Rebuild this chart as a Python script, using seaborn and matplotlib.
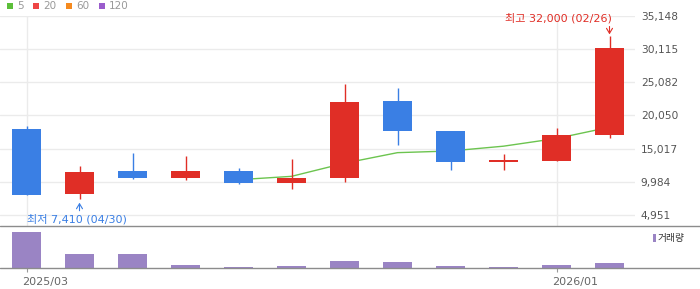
import numpy as np
import pandas as pd
import matplotlib
matplotlib.use("Agg")
import matplotlib.pyplot as plt
from matplotlib.patches import Rectangle
from matplotlib.lines import Line2D
from matplotlib.transforms import ScaledTranslation
import seaborn as sns

# ---------------- data ----------------
months = ["2025/03", "2025/04", "2025/05", "2025/06", "2025/07", "2025/08",
          "2025/09", "2025/10", "2025/11", "2025/12", "2026/01", "2026/02"]
open_ = [17980, 8180, 11620, 10560, 11620, 9800, 10600, 22230, 17680, 13030, 13180, 17120]
close = [8030, 11470, 10560, 11620, 9800, 10560, 22070, 17730, 13030, 13330, 17070, 30250]
high = [18440, 12380, 14350, 13890, 12080, 13440, 24800, 24200, 17680, 14200, 18140, 32000]
low = [8030, 7410, 10410, 10260, 9650, 8890, 10000, 15600, 11820, 11820, 13180, 16570]
volume = [1815000, 715000, 715000, 165000, 65000, 115000, 365000, 315000, 115000, 65000, 165000, 265000]
ma5 = [np.nan, np.nan, np.nan, np.nan, 10300, 10810, 12800, 14400, 14650, 15380, 16550, 18250]

ytick_values = [4951, 9984, 15017, 20050, 25082, 30115, 35148]
ytick_labels = ["4,951", "9,984", "15,017", "20,050", "25,082", "30,115", "35,148"]
xtick_pos = [0, 10]
xtick_labels = ["2025/03", "2026/01"]
legend_labels = ["5", "20", "60", "120"]
legend_colors = ["#5cbf3a", "#ee4545", "#f58a1f", "#9a5ccc"]
high_label = "최고 32,000 (02/26)"
low_label = "최저 7,410 (04/30)"
vol_label = "거래량"

# ---------------- style ----------------
sns.set_theme(style="white")
plt.rcParams["font.family"] = ["DejaVu Sans", "Noto Sans CJK KR"]

RED = "#e02e26"
BLUE = "#3a7fe4"
GREEN = "#6cc44f"
PURPLE = "#9a84c4"
GRID = "#ebebeb"
SEP = "#8c8c8c"

W, H = 700, 289
fig = plt.figure(figsize=(W / 100, H / 100), dpi=100)

def fx(px):
    return px / W

def fy(py):
    return 1 - py / H

right_px = 635
ax = fig.add_axes([0, fy(225.7), fx(right_px), fy(15.7) - fy(225.7)])
axv = fig.add_axes([0, fy(268.3), fx(right_px), fy(225.7) - fy(268.3)])

df = pd.DataFrame({"idx": np.arange(len(months)), "month": months, "open": open_,
                   "close": close, "high": high, "low": low, "volume": volume, "ma5": ma5})
df["color"] = np.where(df["close"] >= df["open"], RED, BLUE)

# gridlines
for v in ytick_values:
    ax.axhline(v, color=GRID, lw=1.0, zorder=0)
for p in xtick_pos:
    ax.axvline(p, color=GRID, lw=1.0, zorder=0)

# MA line
sns.lineplot(data=df.dropna(subset=["ma5"]), x="idx", y="ma5", ax=ax, color=GREEN,
             linewidth=1.0, zorder=2, legend=False)

# candles
ax.vlines(df["idx"], df["low"], df["high"], colors=df["color"], linewidth=1.0, zorder=3)
ax.bar(df["idx"], (df["close"] - df["open"]).abs(), bottom=df[["open", "close"]].min(axis=1),
       width=0.55, color=df["color"], zorder=4, linewidth=0)

ax.set_xlim(-0.5, (right_px - 26.5) / 53)
ax.set_ylim(3333, 35148)
ax.set_yticks(ytick_values)
ax.set_yticklabels(ytick_labels)
ax.yaxis.tick_right()
ax.tick_params(axis="y", length=0, pad=4.2, labelsize=7.7, labelcolor="#555555")
ax.set_xticks([])
ax.set_xlabel("")
ax.set_ylabel("")
for s in ax.spines.values():
    s.set_visible(False)

# annotations
hi_i = int(np.argmax(df["high"]))
lo_i = int(np.argmin(df["low"]))
ax.annotate("", xy=(hi_i, df["high"][hi_i]), xytext=(0, 7.2), textcoords="offset points",
            arrowprops=dict(arrowstyle="->,head_length=0.3,head_width=0.18", color=RED, lw=0.8,
                            shrinkA=0, shrinkB=1.5), zorder=6)
ax.annotate(high_label, xy=(hi_i, df["high"][hi_i]), xytext=(1.8, 13.3), textcoords="offset points",
            ha="right", va="center", color=RED, fontsize=8, zorder=6)
ax.annotate("", xy=(lo_i, df["low"][lo_i]), xytext=(0, -8.6), textcoords="offset points",
            arrowprops=dict(arrowstyle="->,head_length=0.3,head_width=0.18", color=BLUE, lw=0.8,
                            shrinkA=0, shrinkB=2.8), zorder=6)
ax.annotate(low_label, xy=(lo_i, df["low"][lo_i]), xytext=(-37.8, -14.5), textcoords="offset points",
            ha="left", va="center", color=BLUE, fontsize=8, zorder=6, annotation_clip=False)

# volume
sns.barplot(data=df, x="idx", y="volume", ax=axv, color=PURPLE, saturation=1, width=0.55,
            linewidth=0, zorder=3)
axv.set_xlim(ax.get_xlim())
axv.set_ylim(0, 2130000)
axv.set_yticks([])
axv.set_xticks(xtick_pos)
axv.set_xticklabels(xtick_labels)
axv.tick_params(axis="x", length=3, width=0.8, color="#999999", pad=3, labelsize=8,
                labelcolor="#666666", bottom=True)
off = ScaledTranslation(-4.5 / 100, 0, fig.dpi_scale_trans)
for lab in axv.get_xticklabels():
    lab.set_ha("left")
    lab.set_transform(lab.get_transform() + off)
axv.set_xlabel("")
axv.set_ylabel("")
for s in axv.spines.values():
    s.set_visible(False)

# separators
fig.add_artist(Line2D([0, 1], [fy(225.7), fy(225.7)], transform=fig.transFigure, color=SEP, lw=1.0))
fig.add_artist(Line2D([0, 1], [fy(268.3), fy(268.3)], transform=fig.transFigure, color=SEP, lw=1.0))

# volume legend
fig.add_artist(Rectangle((fx(653.3), fy(242)), fx(3), 8 / H, transform=fig.transFigure,
                         color=PURPLE, lw=0))
fig.text(fx(657.5), fy(238.3), vol_label, ha="left", va="center", fontsize=7,
         color="#333333", family=["Noto Sans CJK KR", "DejaVu Sans"])

# top legend
leg_x = [7, 33, 66, 99]
for x0, lab, col in zip(leg_x, legend_labels, legend_colors):
    fig.add_artist(Rectangle((fx(x0), fy(9)), fx(6), 6 / H, transform=fig.transFigure,
                             color=col, lw=0))
    fig.text(fx(x0 + 10), fy(6.2), lab, ha="left", va="center", fontsize=7.5, color="#999999")

fig.savefig("out.png", dpi=100)
